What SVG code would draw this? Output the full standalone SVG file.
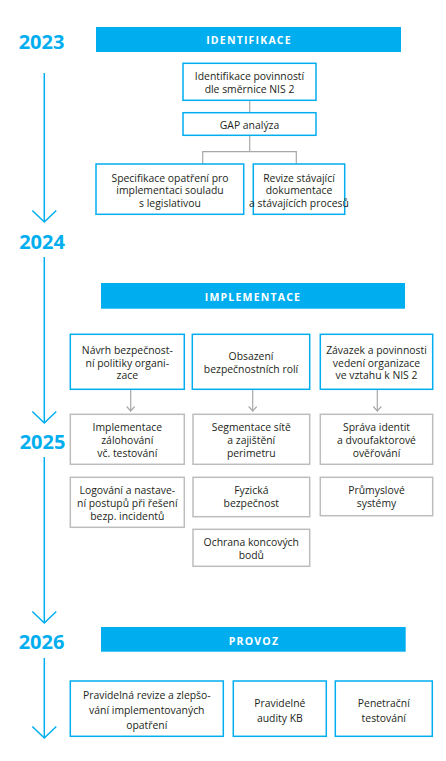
<svg xmlns="http://www.w3.org/2000/svg" width="446" height="761" viewBox="0 0 446 761">
<style>
.yr{font-family:"Open Sans","Liberation Sans",sans-serif;font-weight:700;font-size:20px;fill:#00aeef;text-anchor:middle}
.bt{font-family:"Open Sans","Liberation Sans",sans-serif;font-weight:700;font-size:10.5px;fill:#fff;text-anchor:middle;letter-spacing:1.2px}
.t{font-family:"Open Sans","Liberation Sans",sans-serif;font-size:10.4px;fill:#231f20;text-anchor:middle}
.bb{fill:#fff;stroke:#00aeef;stroke-width:1.5}
.gb{fill:#fff;stroke:#bdbdbd;stroke-width:1.5}
.ban{fill:#00aeef}
.tl{fill:none;stroke:#00aeef;stroke-width:1.5}
.gc{fill:none;stroke:#a8a8a8;stroke-width:1.2}
</style>
<defs>
<marker id="ta" markerUnits="userSpaceOnUse" markerWidth="14" markerHeight="26" refX="12" refY="12.5" orient="auto" overflow="visible">
<path d="M0.5,0.5 L12,12.5 L0.5,24.5" fill="none" stroke="#00aeef" stroke-width="1.5"/>
</marker>
<marker id="ga" markerUnits="userSpaceOnUse" markerWidth="8" markerHeight="10" refX="5" refY="4.5" orient="auto" overflow="visible">
<path d="M0.5,0.5 L5,4.5 L0.5,8.5" fill="none" stroke="#a8a8a8" stroke-width="1.2"/>
</marker>
</defs>

<g id="connectors">
<path class="tl" d="M44.3,73 V222" marker-end="url(#ta)"/>
<path class="tl" d="M44.3,257 V423" marker-end="url(#ta)"/>
<path class="tl" d="M44.3,457 V623" marker-end="url(#ta)"/>
<path class="tl" d="M44.3,658 V738" marker-end="url(#ta)"/>
<path class="gc" d="M249.7,100.5 V112.5"/>
<path class="gc" d="M249.7,135.5 V151.7 M202.7,164 V151.7 H296.3 V164"/>
<path class="gc" d="M130.7,389.5 V411" marker-end="url(#ga)"/>
<path class="gc" d="M252.7,389.5 V411" marker-end="url(#ga)"/>
<path class="gc" d="M377.3,389.5 V411" marker-end="url(#ga)"/>
</g>

<g id="y2023"><text class="yr" x="41.5" y="49">2023</text></g>
<g id="y2024"><text class="yr" x="42" y="249">2024</text></g>
<g id="y2025"><text class="yr" x="42.5" y="449.3">2025</text></g>
<g id="y2026"><text class="yr" x="41.5" y="649.3">2026</text></g>

<g id="identifikace"><rect class="ban" x="96" y="27" width="305" height="25"/><text class="bt" x="249" y="44">IDENTIFIKACE</text></g>
<g id="n1"><rect class="bb" x="183" y="63.3" width="133" height="37"/><text class="t" x="249.5"><tspan x="249.5" y="80">Identifikace povinností</tspan><tspan x="249.5" y="92.7">dle směrnice NIS 2</tspan></text></g>
<g id="n2"><rect class="bb" x="183" y="112.7" width="133" height="22.6"/><text class="t" x="249.5" y="129">GAP analýza</text></g>
<g id="n3"><rect class="bb" x="96" y="164" width="147.7" height="50.3"/><text class="t"><tspan x="170" y="181.5">Specifikace opatření pro</tspan><tspan x="170" y="194.2">implementaci souladu</tspan><tspan x="170" y="206.9">s legislativou</tspan></text></g>
<g id="n4"><rect class="bb" x="253.3" y="164" width="91.4" height="50.3"/><text class="t"><tspan x="299" y="181.5">Revize stávající</tspan><tspan x="299" y="194.2">dokumentace</tspan><tspan x="299" y="206.9">a stávajících procesů</tspan></text></g>

<g id="implementace"><rect class="ban" x="101" y="283" width="304" height="25.7"/><text class="bt" x="253" y="301">IMPLEMENTACE</text></g>
<g id="i1"><rect class="bb" x="70.3" y="334.3" width="114" height="55"/><text class="t"><tspan x="127.3" y="354">Návrh bezpečnost-</tspan><tspan x="127.3" y="366.7">ní politiky organi-</tspan><tspan x="127.3" y="379.4">zace</tspan></text></g>
<g id="i2"><rect class="bb" x="192.3" y="334.3" width="117.4" height="55"/><text class="t"><tspan x="251" y="360">Obsazení</tspan><tspan x="251" y="373.3">bezpečnostních rolí</tspan></text></g>
<g id="i3"><rect class="bb" x="320.3" y="334.3" width="112.4" height="55"/><text class="t"><tspan x="376.5" y="354">Závazek a povinnosti</tspan><tspan x="376.5" y="366.7">vedení organizace</tspan><tspan x="376.5" y="379.4">ve vztahu k NIS 2</tspan></text></g>
<g id="i4"><rect class="gb" x="70.3" y="414.3" width="114" height="50"/><text class="t"><tspan x="127.3" y="431.3">Implementace</tspan><tspan x="127.3" y="444">zálohování</tspan><tspan x="127.3" y="456.7">vč. testování</tspan></text></g>
<g id="i5"><rect class="gb" x="193" y="414.3" width="116.7" height="50"/><text class="t"><tspan x="251.3" y="431.3">Segmentace sítě</tspan><tspan x="251.3" y="444">a zajištění</tspan><tspan x="251.3" y="456.7">perimetru</tspan></text></g>
<g id="i6"><rect class="gb" x="320.3" y="414.3" width="112.4" height="50"/><text class="t"><tspan x="376.5" y="431.3">Správa identit</tspan><tspan x="376.5" y="444">a dvoufaktorové</tspan><tspan x="376.5" y="456.7">ověřování</tspan></text></g>
<g id="i7"><rect class="gb" x="70.3" y="477.3" width="114" height="50"/><text class="t"><tspan x="127.3" y="494.3">Logování a nastave-</tspan><tspan x="127.3" y="507">ní postupů při řešení</tspan><tspan x="127.3" y="519.7">bezp. incidentů</tspan></text></g>
<g id="i8"><rect class="gb" x="193" y="477.3" width="116.7" height="39.4"/><text class="t"><tspan x="251.3" y="494.3">Fyzická</tspan><tspan x="251.3" y="507.3">bezpečnost</tspan></text></g>
<g id="i9"><rect class="gb" x="320.3" y="477.3" width="112.4" height="38.4"/><text class="t"><tspan x="376.5" y="494.3">Průmyslové</tspan><tspan x="376.5" y="507.3">systémy</tspan></text></g>
<g id="i10"><rect class="gb" x="193" y="529.3" width="116.7" height="37"/><text class="t"><tspan x="251.3" y="546">Ochrana koncových</tspan><tspan x="251.3" y="558.7">bodů</tspan></text></g>

<g id="provoz"><rect class="ban" x="101" y="627" width="304.7" height="24.7"/><text class="bt" x="254" y="645">PROVOZ</text></g>
<g id="p1"><rect class="bb" x="70.3" y="681" width="153" height="55.3"/><text class="t"><tspan x="146.8" y="699">Pravidelná revize a zlepšo-</tspan><tspan x="146.8" y="713.8">vání implementovaných</tspan><tspan x="146.8" y="728.6">opatření</tspan></text></g>
<g id="p2"><rect class="bb" x="233.3" y="681" width="93" height="55.3"/><text class="t"><tspan x="279.8" y="706.7">Pravidelné</tspan><tspan x="279.8" y="721.7">audity KB</tspan></text></g>
<g id="p3"><rect class="bb" x="335.3" y="681" width="97" height="55.3"/><text class="t"><tspan x="383.8" y="706.7">Penetrační</tspan><tspan x="383.8" y="721.7">testování</tspan></text></g>
</svg>
